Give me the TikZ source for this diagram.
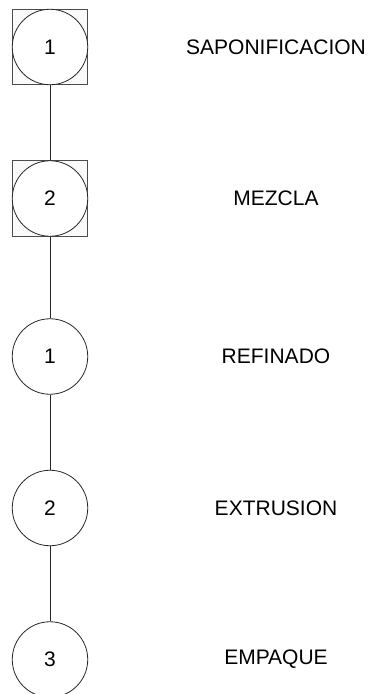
\documentclass[tikz,border=0pt]{standalone}
\usepackage{fontspec}
\setmainfont{Liberation Sans}
\begin{document}
\begin{tikzpicture}[x=1pt,y=-1pt,
  stepcircle/.style={circle,draw=black!85,line width=0.8pt,fill=white,minimum size=75.5pt,inner sep=0pt,font=\fontsize{21}{24}\selectfont},
  stepsquare/.style={rectangle,draw=black!70,line width=0.8pt,fill=black!2,minimum size=75.5pt,inner sep=0pt},
  steplabel/.style={font=\fontsize{21}{24}\selectfont,text=black},
  conn/.style={draw=black!85,line width=0.8pt}]
\useasboundingbox (0,0) rectangle (370,694);
\node[stepsquare] (s1) at (50,47) {};
\node[stepsquare] (s2) at (50,198.5) {};
\node[stepcircle] (c1) at (50,47) {1};
\node[stepcircle] (c2) at (50,198.5) {2};
\node[stepcircle] (c3) at (50,356.5) {1};
\node[stepcircle] (c4) at (50,508) {2};
\node[stepcircle] (c5) at (50,659.5) {3};
\draw[conn] (s1.south) -- (s2.north);
\draw[conn] (s2.south) -- (c3.north);
\draw[conn] (c3.south) -- (c4.north);
\draw[conn] (c4.south) -- (c5.north);
\node[steplabel] (l1) at (276,47) {SAPONIFICACION};
\node[steplabel] (l2) at (276,198.5) {MEZCLA};
\node[steplabel] (l3) at (276,356.5) {REFINADO};
\node[steplabel] (l4) at (276,508) {EXTRUSION};
\node[steplabel] (l5) at (276,659.5) {EMPAQUE};
\end{tikzpicture}
\end{document}
